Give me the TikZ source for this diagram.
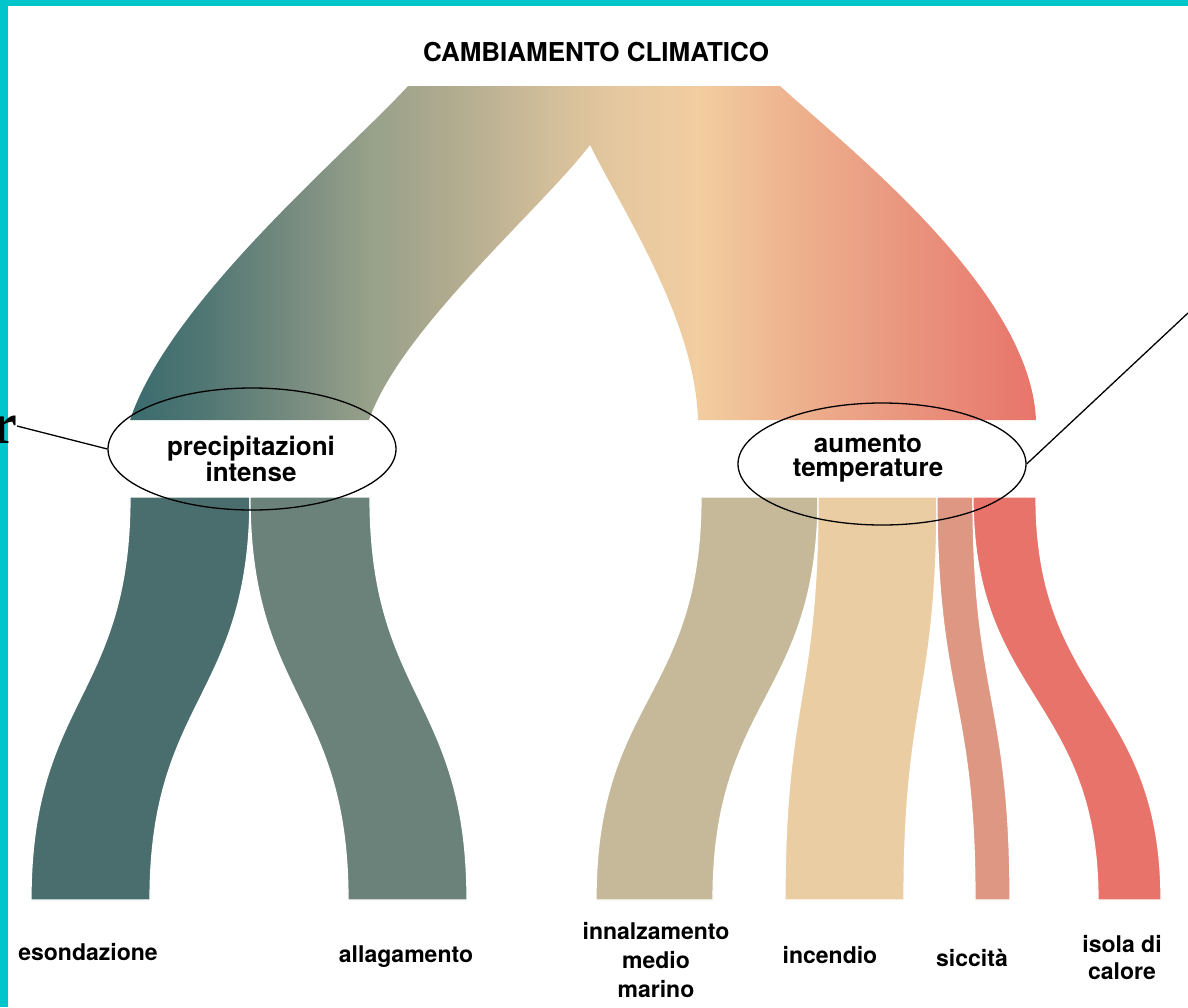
\documentclass[tikz,border=0pt]{standalone}
\usepackage{fontspec}
\newfontfamily\heros{TeX Gyre Heros}
\newfontfamily\fragserif{Liberation Serif}
\usetikzlibrary{shapes.geometric}

\definecolor{cyanb}{HTML}{00C6CC}
\definecolor{g0}{HTML}{3B6B6E}
\definecolor{g1}{HTML}{4F7673}
\definecolor{g2}{HTML}{7A8D80}
\definecolor{g3}{HTML}{97A18A}
\definecolor{g4}{HTML}{B0AB8F}
\definecolor{g5}{HTML}{D2BE9A}
\definecolor{g6}{HTML}{E6C89F}
\definecolor{g7}{HTML}{F2CDA0}
\definecolor{g8}{HTML}{EDB08D}
\definecolor{g9}{HTML}{E9977F}
\definecolor{g10}{HTML}{E8746A}
\definecolor{cEso}{HTML}{4A6E6E}
\definecolor{cAll}{HTML}{6B827A}
\definecolor{cInn}{HTML}{C5B99A}
\definecolor{cInc}{HTML}{EBCDA3}
\definecolor{cSic}{HTML}{DE9782}
\definecolor{cIso}{HTML}{E8736A}

\pgfdeclarehorizontalshading{topflow}{100bp}{color(0bp)=(g0); color(25bp)=(g0); color(28.86bp)=(g1); color(34.38bp)=(g2); color(38.25bp)=(g3); color(42.66bp)=(g4); color(48.18bp)=(g5); color(52.04bp)=(g6); color(56.46bp)=(g7); color(61.98bp)=(g8); color(67.49bp)=(g9); color(75bp)=(g10); color(100bp)=(g10)}

\newcommand{\flowlink}[5]{%
  \fill[#5, draw=white, line width=1.2pt] (#1,497) -- (#2,497) .. controls (#2,698) and (#4,698) .. (#4,900)
    -- (#3,900) .. controls (#3,698) and (#1,698) .. (#1,497) -- cycle;}

\tikzset{
  lbl/.style={font=\heros\bfseries\fontsize{23}{29}\selectfont, align=center, inner sep=0pt},
  elab/.style={font=\heros\bfseries\fontsize{26}{24}\selectfont, align=center, inner sep=0pt},
  ell/.style={ellipse, draw, line width=1.3pt, minimum width=288pt, minimum height=122pt, inner sep=0pt},
  callout/.style={draw, line width=1.3pt}
}

\begin{document}
\begin{tikzpicture}[x=1pt, y=-1pt]
\useasboundingbox (0,0) rectangle (1188,1007);
\fill[white] (0,0) rectangle (1188,1007);

% upper flow
\path[shading=topflow] (408,86) -- (780,86)
  .. controls (850,150) and (1030,290) .. (1036,420)
  -- (698,420)
  .. controls (695,320) and (625,215) .. (590,145)
  .. controls (540,210) and (400,330) .. (369,420)
  -- (130,420)
  .. controls (170,300) and (350,150) .. (408,86) -- cycle;

% lower flows
\flowlink{130}{250}{31}{150}{cEso}
\flowlink{250}{370}{348}{467}{cAll}
\flowlink{701}{818}{596}{713}{cInn}
\flowlink{818}{937}{785}{904}{cInc}
\flowlink{937}{973}{975}{1010}{cSic}
\flowlink{973}{1036}{1098}{1161}{cIso}

% title
\node[font=\heros\bfseries\fontsize{26}{30}\selectfont, inner sep=0pt] (title) at (596,52) {CAMBIAMENTO CLIMATICO};

% ellipses and their labels
\node[ell] (precell) at (252,449) {};
\node[elab] (prec) at (251,459) {precipitazioni\\intense};
\node[ell] (tempell) at (882,464) {};
\node[elab] (temp) at (868,459) {aumento\\temperature};

% bottom labels
\node[lbl] (eso) at (88,952) {esondazione};
\node[lbl] (all) at (406,957) {allagamento};
\node[lbl] (inn) at (656,960) {innalzamento\\medio\\marino};
\node[lbl] (inc) at (830,955) {incendio};
\node[lbl] (sic) at (972,958) {siccità};
\node[lbl, font=\heros\bfseries\fontsize{23}{27}\selectfont] (iso) at (1122,958) {isola di\\calore};

% callout lines
\coordinate (lend) at (17,426);
\coordinate (rend) at (1188,313);
\draw[callout] (precell.west) -- (lend);
\draw[callout] (tempell.east) -- (rend);

% cyan frame
\fill[cyanb] (0,0) rectangle (1188,6);
\fill[cyanb] (0,0) rectangle (8,1007);

% cut-off glyph at left edge
\node[font=\fragserif\bfseries\fontsize{58}{58}\selectfont, inner sep=0pt, anchor=base east] (frag) at (17,443) {r};
\end{tikzpicture}
\end{document}
